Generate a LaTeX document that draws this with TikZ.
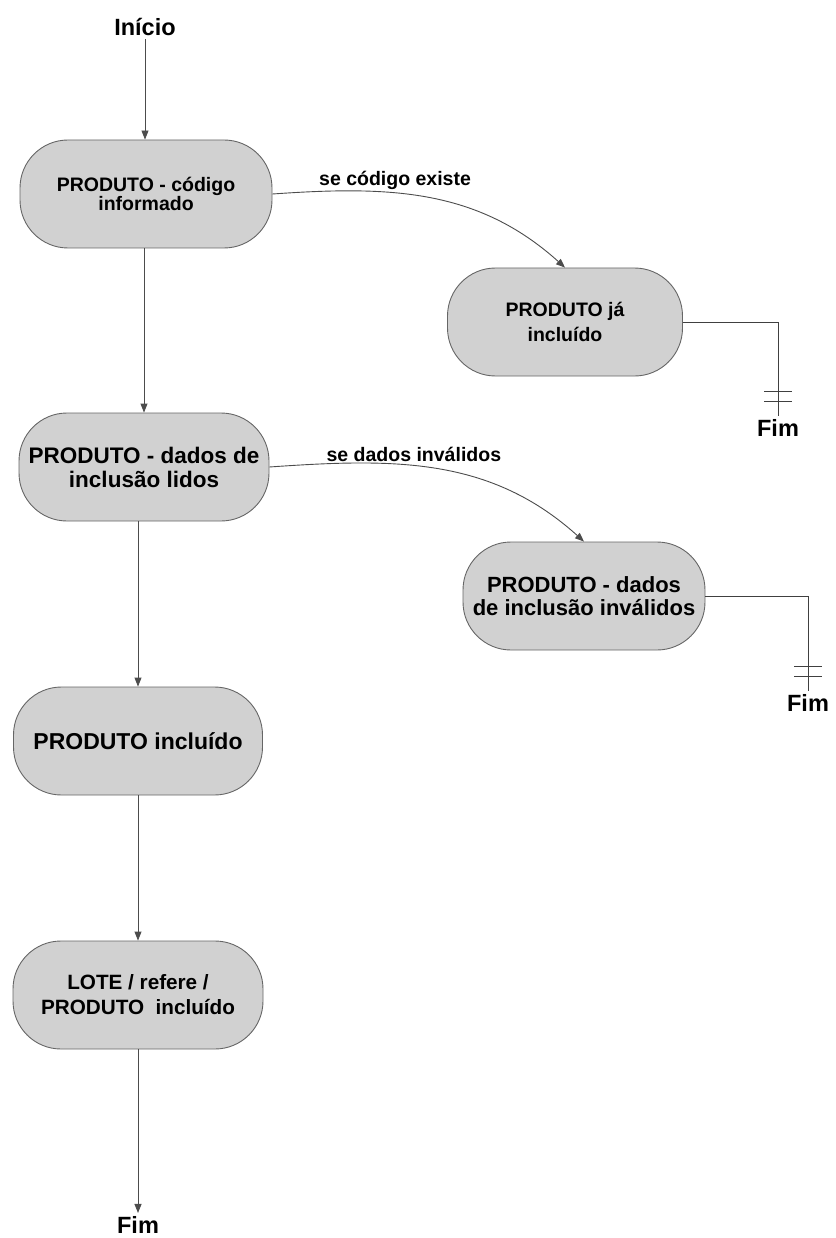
\documentclass[tikz,border=0pt]{standalone}
\usepackage{fontspec}
\setmainfont{Liberation Sans}
\usetikzlibrary{arrows.meta}
\tikzset{
  estado/.style={draw=black!60, fill=black!18, line width=0.9pt, rounded corners=48pt,
    minimum height=108pt, align=center, inner sep=0pt},
  seta/.style={draw=black!70, line width=0.9pt, -{Triangle[length=9pt,width=7pt]}},
  linha/.style={draw=black!75, line width=0.9pt},
  rot/.style={font=\bfseries\fontsize{19.5}{21}\selectfont},
  fim/.style={font=\bfseries\fontsize{23.5}{25}\selectfont}
}
\begin{document}
\begin{tikzpicture}[x=1pt,y=-1pt]
      \useasboundingbox (0,0) rectangle (835,1238);
      \node[fim](inicio)at(145,27){Início};
      \node[estado,minimum width=252pt,font=\bfseries\fontsize{19.5}{19.5}\selectfont](cod)at(146,194){PRODUTO - código\\informado};
      \node[estado,minimum width=235pt,font=\bfseries\fontsize{19.5}{25}\selectfont](jaincl)at(565,322){PRODUTO já\\incluído};
      \node[estado,minimum width=250pt,font=\bfseries\fontsize{22.5}{24}\selectfont](dados)at(144,467){PRODUTO - dados de\\inclusão lidos};
      \node[estado,minimum width=242pt,font=\bfseries\fontsize{22}{23.5}\selectfont](invalid)at(584,596){PRODUTO - dados\\de inclusão inválidos};
      \node[estado,minimum width=249pt,font=\bfseries\fontsize{23}{25}\selectfont](incl)at(138,741){PRODUTO incluído};
      \node[estado,minimum width=250pt,font=\bfseries\fontsize{20.7}{25}\selectfont](lote)at(138,995){LOTE / refere /\\PRODUTO\ \ incluído};
      \node[fim](fim1)at(138,1225){Fim};
      \node[fim](fim2)at(778,428){Fim};
      \node[fim](fim3)at(808,703){Fim};
      \draw[seta](inicio)--(inicio |- cod.north);
      \draw[seta](cod.south -| dados)--(dados.north);
      \draw[seta](dados.south -| incl)--(incl.north);
      \draw[seta](incl)--(lote);
      \draw[seta](lote)--(fim1);
      \draw[seta](cod.east)to[out=4,in=138]node[rot,pos=0.38,above=0pt]{se código existe}(jaincl.north);
      \draw[seta](dados.east)to[out=4,in=138]node[rot,pos=0.42,above=0pt]{se dados inválidos}(invalid.north);
      \draw[linha](jaincl.east)-|(fim2.north);
      \draw[linha](invalid.east)-|(fim3.north);
      \foreach \n in {fim2,fim3}
        \foreach \d in {15,25}
          \draw[linha]([xshift=-14pt,yshift=\d pt]\n.north)--++(28pt,0);
    \end{tikzpicture}
\end{document}
